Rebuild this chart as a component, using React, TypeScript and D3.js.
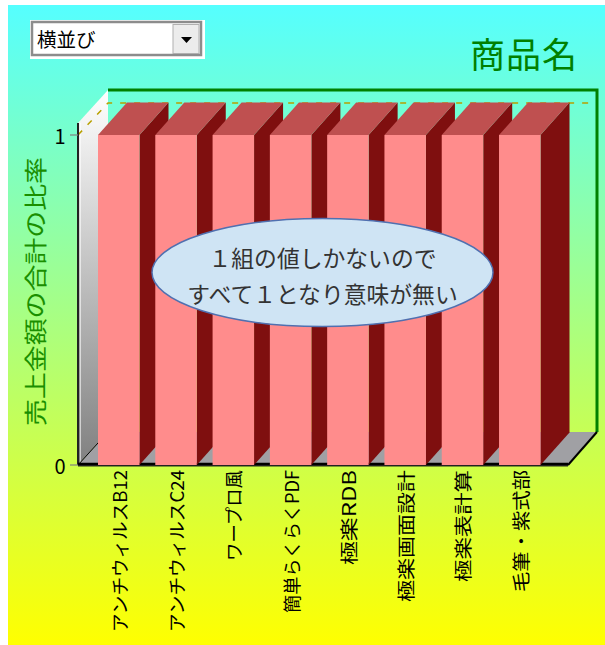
import * as d3 from 'd3'

const categories = ['アンチウィルスB12', 'アンチウィルスC24', 'ワープロ風', '簡単らくらくPDF', '極楽RDB', '極楽画面設計', '極楽表計算', '毛筆・紫式部']
const ratios = [1, 1, 1, 1, 1, 1, 1, 1]
const yTicks = [0, 1]
const noteLines = ['１組の値しかないので', 'すべて１となり意味が無い']

const font = '"Noto Sans CJK JP", sans-serif'
const width = 605
const height = 645
// the source is a stretched proportional bitmap font, so lengths are fitted per label
const labelLengths = [162, 162, 91, 143, 95, 132, 112, 122]
// 3D depth of the box
const dx = 30
const dy = 33
const barDx = 29
const barDy = 32.5

const x = d3.scaleBand<string>().domain(categories).range([98, 540.5]).paddingInner(0.276)
const y = d3.scaleLinear().domain([0, 1]).range([465, 135])

const poly = d3.line<[number, number]>()

export default function App() {
  const left = 78
  const right = 568
  const y0 = y(0)
  const wallTop = 123
  return (
    <svg width={width} height={height} style={{ position: 'absolute', left: 0, top: 0 }}>
      <defs>
        <linearGradient id="bg" x1="0" x2="0" y1="0" y2="1">
          <stop offset="0%" stopColor="#55ffff" />
          <stop offset="100%" stopColor="#ffff00" />
        </linearGradient>
        <linearGradient id="wall" x1="0" x2="0" y1="0" y2="1">
          <stop offset="0%" stopColor="#ffffff" />
          <stop offset="100%" stopColor="#808080" />
        </linearGradient>
      </defs>
      <rect x={8} y={5} width={width - 8} height={height - 5} fill="url(#bg)" />

      {/* combo box */}
      <rect x={30} y={20} width={175} height={39} fill="#fff" />
      <rect x={32} y={22} width={169} height={33} fill="#fff" stroke="#8c8c8c" strokeWidth={2.5} />
      <rect x={173} y={24.5} width={26} height={29} fill="#ececec" stroke="#b0b0b0" />
      <path d={poly([[181, 37], [192, 37], [186.5, 43]])! + 'Z'} fill="#000" />
      <text x={37} y={47} fontFamily={font} fontSize={19.5} fill="#000">横並び</text>

      <text x={578} y={68} textAnchor="end" fontFamily={font} fontSize={35} fill="#008000" letterSpacing={1}>商品名</text>

      {/* walls and floor */}
      <path d={poly([[left, wallTop], [left + dx, wallTop - dy], [left + dx, y0 - dy], [left, y0]])! + 'Z'} fill="url(#wall)" />
      <line x1={80.5} x2={80.5} y1={wallTop} y2={y0 - 3} stroke="#fff" strokeOpacity={0.6} />
      <path d={poly([[left, y0], [left + dx, y0 - dy], [right + 29, y0 - dy], [right, y0]])! + 'Z'} fill="#a0a0a4" />
      <path d={poly([[left + dx, wallTop - dy], [right + 29, wallTop - dy], [right + 29, y0 - dy]])!} fill="none" stroke="#008000" strokeWidth={3} />
      <path d={poly([[left, y0], [left + dx, y0 - dy]])!} stroke="#000" fill="none" />
      <path d={poly([[left, y(1)], [left + dx, y(1) - 32], [right + 24, y(1) - 32]])!} fill="none" stroke="#b8a000" strokeWidth={1.5} strokeDasharray="6 8" />
      <path d={poly([[right, y0], [right + 29, y0 - dy]])!} stroke="#000" strokeWidth={2} fill="none" />
      <path d={poly([[left, wallTop], [left, y0]])!} fill="none" stroke="#222" strokeWidth={2} />
      {/* thick floor edge, only the gaps between bars stay visible */}
      <line x1={left} x2={right} y1={464.5} y2={464.5} stroke="#000" strokeWidth={3.5} />

      {yTicks.map((t) => (
        <g key={t}>
          <line x1={70} x2={left} y1={y(t)} y2={y(t)} stroke="#808080" strokeWidth={1.2} />
          <text x={60} y={y(t)} textAnchor="middle" dominantBaseline="central" fontFamily={font} fontSize={20} fill="#000">{t}</text>
        </g>
      ))}

      <text transform="translate(34,291.5) rotate(-90) scale(1.17,1)" textAnchor="middle" dominantBaseline="central" fontFamily={font} fontSize={23} fill="#1a8f00">売上金額の合計の比率</text>

      {/* bars, left to right so each front covers the previous side */}
      {categories.map((c, i) => {
        const bx = x(c)!
        const bw = x.bandwidth()
        const top = y(ratios[i])
        return (
          <g key={c}>
            <path d={poly([[bx + bw, top], [bx + bw + barDx, top - barDy], [bx + bw + barDx, y0 - barDy], [bx + bw, y0]])! + 'Z'} fill="#7f0f0f" />
            <path d={poly([[bx, top], [bx + barDx, top - barDy], [bx + bw + barDx, top - barDy], [bx + bw, top]])! + 'Z'} fill="#bf5050" />
            <rect x={bx} y={top} width={bw} height={y0 - top} fill="#ff8c8c" />
          </g>
        )
      })}
      <line x1={left} x2={right} y1={465.7} y2={465.7} stroke="#222" strokeWidth={1.2} />

      {categories.map((c, i) => (
        <text
          key={c}
          transform={`translate(${x(c)! + x.bandwidth() / 2},${470 + labelLengths[i]}) rotate(-90)`}
          dominantBaseline="central"
          fontFamily={font}
          fontSize={18}
          fill="#000"
          textLength={labelLengths[i]}
          lengthAdjust="spacingAndGlyphs"
        >
          {c}
        </text>
      ))}

      <ellipse cx={322.5} cy={272.5} rx={170.5} ry={54} fill="#cfe4f4" stroke="#5070b0" strokeWidth={1.5} />
      {noteLines.map((l, i) => (
        <text key={l} x={322.5} y={257 + i * 36} textAnchor="middle" dominantBaseline="central" fontFamily={font} fontSize={22.8} fill="#333">{l}</text>
      ))}
    </svg>
  )
}
